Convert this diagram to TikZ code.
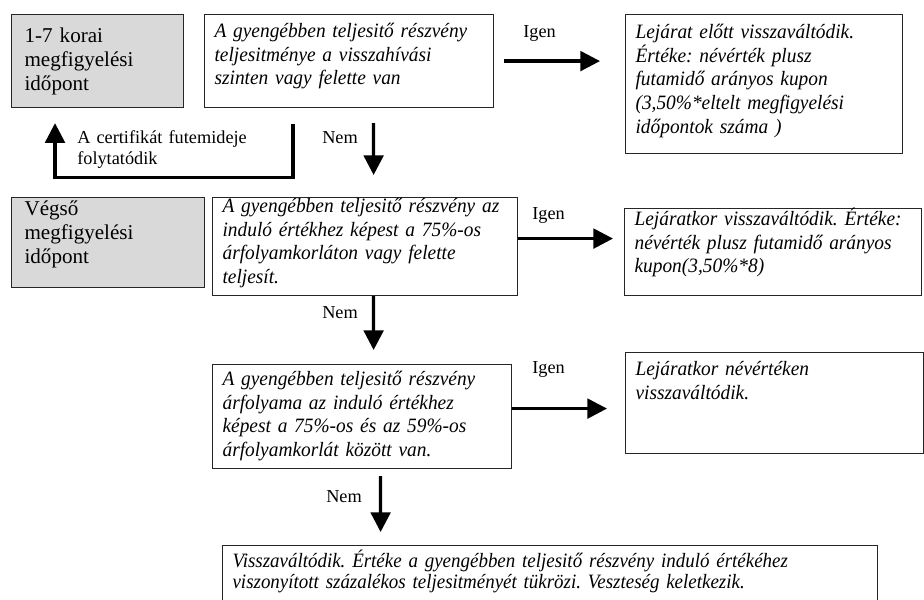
\documentclass[tikz,border=0pt]{standalone}
\usepackage{fontspec}
\setmainfont{Liberation Serif}
\newfontfamily\boxfont[FakeStretch=0.95]{Liberation Serif}
\newfontfamily\narrowfont[FakeStretch=0.93]{Liberation Serif}
\usetikzlibrary{arrows.meta}
\frenchspacing

\tikzset{
  box/.style={draw=black!85, line width=0.8pt, anchor=north west,
    inner xsep=0.25cm, inner ysep=0pt, align=left,
    font=\boxfont\itshape\fontsize{14.5}{16.8}\selectfont},
  graybox/.style={box, fill=black!15, inner xsep=0.325cm,
    font=\rmfamily\upshape\fontsize{15}{17}\selectfont},
  lbl/.style={anchor=base west, inner sep=0pt, align=left,
    font=\fontsize{13}{15}\selectfont},
  arr/.style={line width=2.3pt, -{Triangle[length=14pt,width=14pt]}},
}

\begin{document}
\begin{tikzpicture}[x=0.025cm, y=-0.025cm]
  \useasboundingbox (0,0) rectangle (924,599);
  \clip (0,0) rectangle (924,599);

  % left column
  \node[graybox, text width=3.65cm, text height=0.7cm, text depth=1.625cm]
    (early) at (11,14) {1-7 korai\\ megfigyelési\\ időpont};
  \node[graybox, text width=4.175cm, text height=0.45cm, text depth=1.8cm]
    (final) at (11,197) {Végső\\ megfigyelési\\ időpont};

  % conditions
  \node[box, text width=6.725cm, text height=0.575cm, text depth=1.75cm]
    (cond1) at (204,14) {A gyengébben teljesitő részvény\\
    teljesitménye a visszahívási\\ szinten vagy felette van};
  \node[box, text width=7.125cm, text height=0.375cm, text depth=2.075cm]
    (cond2) at (212,197) {A gyengébben teljesitő részvény az\\
    induló értékhez képest a 75\%-os\\ árfolyamkorláton vagy felette\\ teljesít.};
  \node[box, text width=6.975cm, text height=0.525cm, text depth=2.075cm]
    (cond3) at (212,364) {A gyengébben teljesitő részvény\\
    árfolyama az induló értékhez\\ képest a 75\%-os és az 59\%-os\\
    árfolyamkorlát között van.};

  % results
  \node[box, text width=6.425cm, text height=0.6cm, text depth=2.875cm]
    (res1) at (625,14) {Lejárat előtt visszaváltódik.\\ Értéke: névérték plusz\\
    futamidő arányos kupon\\ (3,50\%*eltelt megfigyelési\\ időpontok száma )};
  \node[box, text width=6.925cm, text height=0.425cm, text depth=1.75cm]
    (res2) at (624,208) {Lejáratkor visszaváltódik. Értéke:\\
    névérték plusz futamidő arányos\\ kupon(3,50\%*8)};
  \node[box, text width=6.95cm, text height=0.575cm, text depth=1.95cm]
    (res3) at (625,352) {Lejáratkor névértéken\\ visszaváltódik.};
  \node[box, text width=15.875cm, text height=0.55cm, text depth=1.75cm,
    font=\narrowfont\itshape\fontsize{14.5}{15}\selectfont]
    (loss) at (222,545) {Visszaváltódik. Értéke a gyengébben teljesitő részvény induló értékéhez\\
    viszonyított százalékos teljesitményét tükrözi. Veszteség keletkezik.};

  % labels
  \node[lbl] (igen1) at (523,37) {Igen};
  \node[lbl] (igen2) at (532,219) {Igen};
  \node[lbl] (igen3) at (532,373) {Igen};
  \node[lbl] (nem1) at (322,143) {Nem};
  \node[lbl] (nem2) at (322,318) {Nem};
  \node[lbl] (nem3) at (326,502) {Nem};
  \node[lbl, text width=4.5cm] (cont) at (77,143) {A certifikát futemideje\\ folytatódik};

  % arrows
  \draw[arr, shorten <=0.25cm, shorten >=0.625cm] (cond1.east) -- (cond1.east -| res1.west);
  \draw[arr] ([xshift=0.6125cm, yshift=-0.375cm]cond1.south)
    -- ([xshift=0.2125cm, yshift=0.55cm]cond2.north);
  \draw[arr, shorten >=0.375cm] ([xshift=2.225cm, yshift=-0.4cm]cond1.south west)
    -- ++(0,53) -| ([xshift=1.1cm]early.south west);
  \draw[arr, shorten >=0.275cm] ([yshift=0.2cm]cond2.east) coordinate (i2) -- (i2 -| res2.west);
  \draw[arr] ([xshift=0.2125cm]cond2.south)
    -- ([xshift=0.2875cm, yshift=0.35cm]cond3.north);
  \draw[arr, shorten >=0.45cm] ([yshift=0.2cm]cond3.east) coordinate (i3) -- (i3 -| res3.west);
  \draw[arr] ([xshift=0.4625cm, yshift=-0.175cm]cond3.south)
    -- ([xshift=-4.2375cm, yshift=0.325cm]loss.north);
\end{tikzpicture}
\end{document}
